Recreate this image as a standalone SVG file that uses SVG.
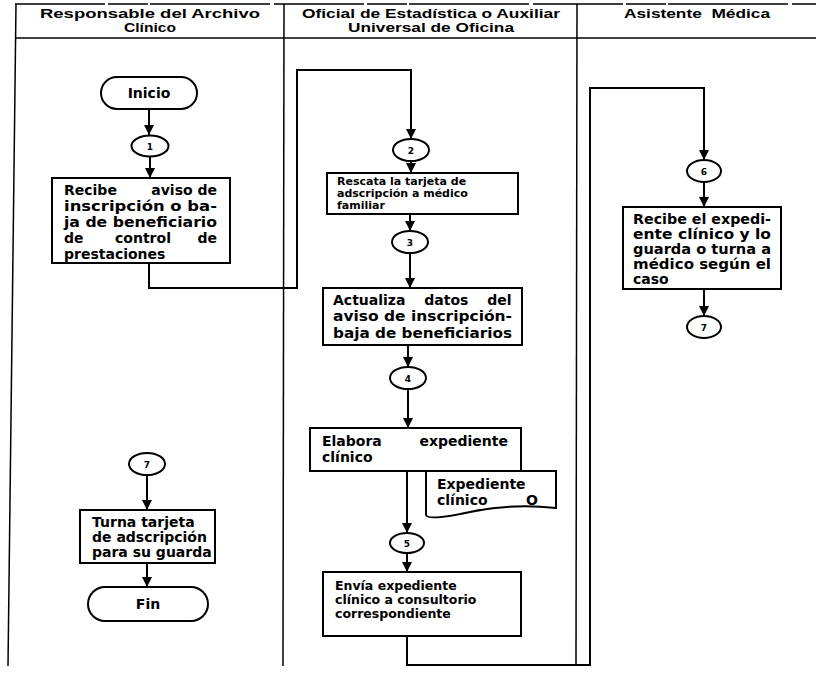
<svg xmlns="http://www.w3.org/2000/svg" width="816" height="689" viewBox="0 0 816 689">
  <style>
    .lane { stroke: #000; stroke-width: 1.5; fill: none; }
    .box { fill: #fff; stroke: #000; stroke-width: 2; }
    .con { fill: #fff; stroke: #000; stroke-width: 2; }
    .flow { fill: none; stroke: #000; stroke-width: 2; }
    .hd { font-family: "Liberation Sans", Arial, sans-serif; font-weight: bold; font-size: 13.5px; fill: #000; text-anchor: middle; }
    .tx { font-family: "DejaVu Sans", "Liberation Sans", sans-serif; font-weight: bold; font-size: 14px; fill: #000; }
    .sm { font-family: "DejaVu Sans", "Liberation Sans", sans-serif; font-weight: bold; font-size: 11px; fill: #000; }
    .md { font-family: "DejaVu Sans", "Liberation Sans", sans-serif; font-weight: bold; font-size: 12.5px; fill: #000; }
    .num { font-family: "DejaVu Sans", sans-serif; font-weight: bold; font-size: 9px; fill: #000; text-anchor: middle; }
    .mid { text-anchor: middle; }
    .end { text-anchor: end; }
  </style>
  <defs>
    <marker id="arr" viewBox="0 0 10 10" refX="10" refY="5" markerWidth="12" markerHeight="10" markerUnits="userSpaceOnUse" orient="auto">
      <path d="M0,0 L10,5 L0,10 z" fill="#000"/>
    </marker>
  </defs>
  <rect width="816" height="689" fill="#fff"/>

  <!-- swimlane frame -->
  <g id="lanes">
    <line class="lane" x1="15" y1="4" x2="816" y2="4" stroke-width="1" stroke-dasharray="90 3 40 2 120 4"/>
    <line class="lane" x1="15" y1="38" x2="816" y2="38" stroke-width="1.2"/>
    <line class="lane" x1="16" y1="4" x2="8" y2="666"/>
    <line class="lane" x1="284" y1="4" x2="283" y2="666"/>
    <line class="lane" x1="577" y1="4" x2="576" y2="666"/>
    <text class="hd" x="150" y="18" textLength="220" lengthAdjust="spacingAndGlyphs">Responsable del Archivo</text>
    <text class="hd" x="150" y="32" textLength="52" lengthAdjust="spacingAndGlyphs">Clínico</text>
    <text class="hd" x="431" y="18" textLength="258" lengthAdjust="spacingAndGlyphs">Oficial de Estadística o Auxiliar</text>
    <text class="hd" x="431" y="32" textLength="166" lengthAdjust="spacingAndGlyphs">Universal de Oficina</text>
    <text class="hd" x="697" y="18" textLength="146" lengthAdjust="spacingAndGlyphs" xml:space="preserve">Asistente  Médica</text>
  </g>

  <!-- connectors -->
  <g id="connectors">
    <line class="flow" x1="149" y1="109" x2="149" y2="135" marker-end="url(#arr)"/>
    <line class="flow" x1="150" y1="157" x2="150" y2="178" marker-end="url(#arr)"/>
    <path class="flow" d="M149,263 V288 H297 V70 H411 V139" marker-end="url(#arr)"/>
    <line class="flow" x1="411" y1="161" x2="411" y2="173" marker-end="url(#arr)"/>
    <line class="flow" x1="410" y1="214" x2="410" y2="231" marker-end="url(#arr)"/>
    <line class="flow" x1="410" y1="253" x2="410" y2="288" marker-end="url(#arr)"/>
    <line class="flow" x1="408" y1="345" x2="408" y2="367" marker-end="url(#arr)"/>
    <line class="flow" x1="408" y1="389" x2="408" y2="428" marker-end="url(#arr)"/>
    <line class="flow" x1="407" y1="471" x2="407" y2="533" marker-end="url(#arr)"/>
    <line class="flow" x1="407" y1="553" x2="407" y2="572" marker-end="url(#arr)"/>
    <path class="flow" d="M407,636 V665 H590 V88 H704 V160" marker-end="url(#arr)"/>
    <line class="flow" x1="704" y1="182" x2="704" y2="207" marker-end="url(#arr)"/>
    <line class="flow" x1="704" y1="289" x2="704" y2="316" marker-end="url(#arr)"/>
    <line class="flow" x1="147" y1="475" x2="147" y2="510" marker-end="url(#arr)"/>
    <line class="flow" x1="147" y1="563" x2="147" y2="587" marker-end="url(#arr)"/>
  </g>

  <!-- lane 1: Responsable del Archivo Clínico -->
  <g id="inicio">
    <rect class="box" x="101" y="77" width="96" height="32" rx="16"/>
    <text class="tx mid" x="149" y="98">Inicio</text>
  </g>
  <g id="c1">
    <ellipse class="con" cx="150" cy="146" rx="18.5" ry="10.5"/>
    <text class="num" x="150" y="150">1</text>
  </g>
  <g id="recibe-aviso">
    <rect class="box" x="52" y="178" width="178" height="85"/>
    <text class="tx" x="64" y="195">Recibe</text>
    <text class="tx end" x="217" y="195">aviso de</text>
    <text class="tx" x="64" y="211" textLength="153" lengthAdjust="spacingAndGlyphs">inscripción o ba-</text>
    <text class="tx" x="64" y="227" textLength="153" lengthAdjust="spacingAndGlyphs">ja de beneficiario</text>
    <text class="tx" x="64" y="243">de</text>
    <text class="tx mid" x="143" y="243">control</text>
    <text class="tx end" x="217" y="243">de</text>
    <text class="tx" x="64" y="259">prestaciones</text>
  </g>
  <g id="c7-left">
    <ellipse class="con" cx="147" cy="464" rx="18" ry="11"/>
    <text class="num" x="147" y="468">7</text>
  </g>
  <g id="turna">
    <rect class="box" x="80" y="510" width="135" height="53"/>
    <text class="tx" x="92" y="527">Turna tarjeta</text>
    <text class="tx" x="92" y="542">de adscripción</text>
    <text class="tx" x="92" y="557">para su guarda</text>
  </g>
  <g id="fin">
    <rect class="box" x="88" y="587" width="120" height="34" rx="17"/>
    <text class="tx mid" x="148" y="609">Fin</text>
  </g>

  <!-- lane 2: Oficial de Estadística o Auxiliar Universal de Oficina -->
  <g id="c2">
    <ellipse class="con" cx="411" cy="150" rx="18" ry="11"/>
    <text class="num" x="411" y="154">2</text>
  </g>
  <g id="rescata">
    <rect class="box" x="327" y="173" width="191" height="41"/>
    <text class="sm" x="337" y="185">Rescata la tarjeta de</text>
    <text class="sm" x="337" y="197">adscripción a médico</text>
    <text class="sm" x="337" y="209">familiar</text>
  </g>
  <g id="c3">
    <ellipse class="con" cx="410" cy="242" rx="18" ry="11"/>
    <text class="num" x="410" y="246">3</text>
  </g>
  <g id="actualiza">
    <rect class="box" x="323" y="288" width="199" height="57"/>
    <text class="tx" x="333" y="305" style="word-spacing:14px">Actualiza datos del</text>
    <text class="tx" x="333" y="321" textLength="179" lengthAdjust="spacingAndGlyphs">aviso de inscripción-</text>
    <text class="tx" x="333" y="338" textLength="179" lengthAdjust="spacingAndGlyphs">baja de beneficiarios</text>
  </g>
  <g id="c4">
    <ellipse class="con" cx="408" cy="378" rx="18" ry="11"/>
    <text class="num" x="408" y="382">4</text>
  </g>
  <g id="elabora">
    <rect class="box" x="310" y="428" width="211" height="43"/>
    <text class="tx" x="322" y="446">Elabora</text>
    <text class="tx end" x="508" y="446">expediente</text>
    <text class="tx" x="322" y="462">clínico</text>
  </g>
  <g id="documento">
    <path class="box" d="M426,471 H556 V508 Q512,503 470,512 T426,515 Z"/>
    <text class="tx" x="437" y="489">Expediente</text>
    <text class="tx" x="437" y="505">clínico</text>
    <text class="tx end" x="538" y="505">O</text>
  </g>
  <g id="c5">
    <ellipse class="con" cx="407" cy="543" rx="17" ry="10"/>
    <text class="num" x="407" y="547">5</text>
  </g>
  <g id="envia">
    <rect class="box" x="323" y="572" width="198" height="64"/>
    <text class="md" x="335" y="590">Envía expediente</text>
    <text class="md" x="335" y="604">clínico a consultorio</text>
    <text class="md" x="335" y="618">correspondiente</text>
  </g>

  <!-- lane 3: Asistente Médica -->
  <g id="c6">
    <ellipse class="con" cx="704" cy="171" rx="17" ry="11"/>
    <text class="num" x="704" y="175">6</text>
  </g>
  <g id="recibe-expediente">
    <rect class="box" x="623" y="207" width="158" height="82"/>
    <text class="tx" x="633" y="224" textLength="138" lengthAdjust="spacingAndGlyphs">Recibe el expedi-</text>
    <text class="tx" x="633" y="239" textLength="138" lengthAdjust="spacingAndGlyphs">ente clínico y lo</text>
    <text class="tx" x="633" y="254" textLength="138" lengthAdjust="spacingAndGlyphs">guarda o turna a</text>
    <text class="tx" x="633" y="269" textLength="138" lengthAdjust="spacingAndGlyphs">médico según el</text>
    <text class="tx" x="633" y="284">caso</text>
  </g>
  <g id="c7-right">
    <ellipse class="con" cx="704" cy="327" rx="17" ry="11"/>
    <text class="num" x="704" y="331">7</text>
  </g>
</svg>
